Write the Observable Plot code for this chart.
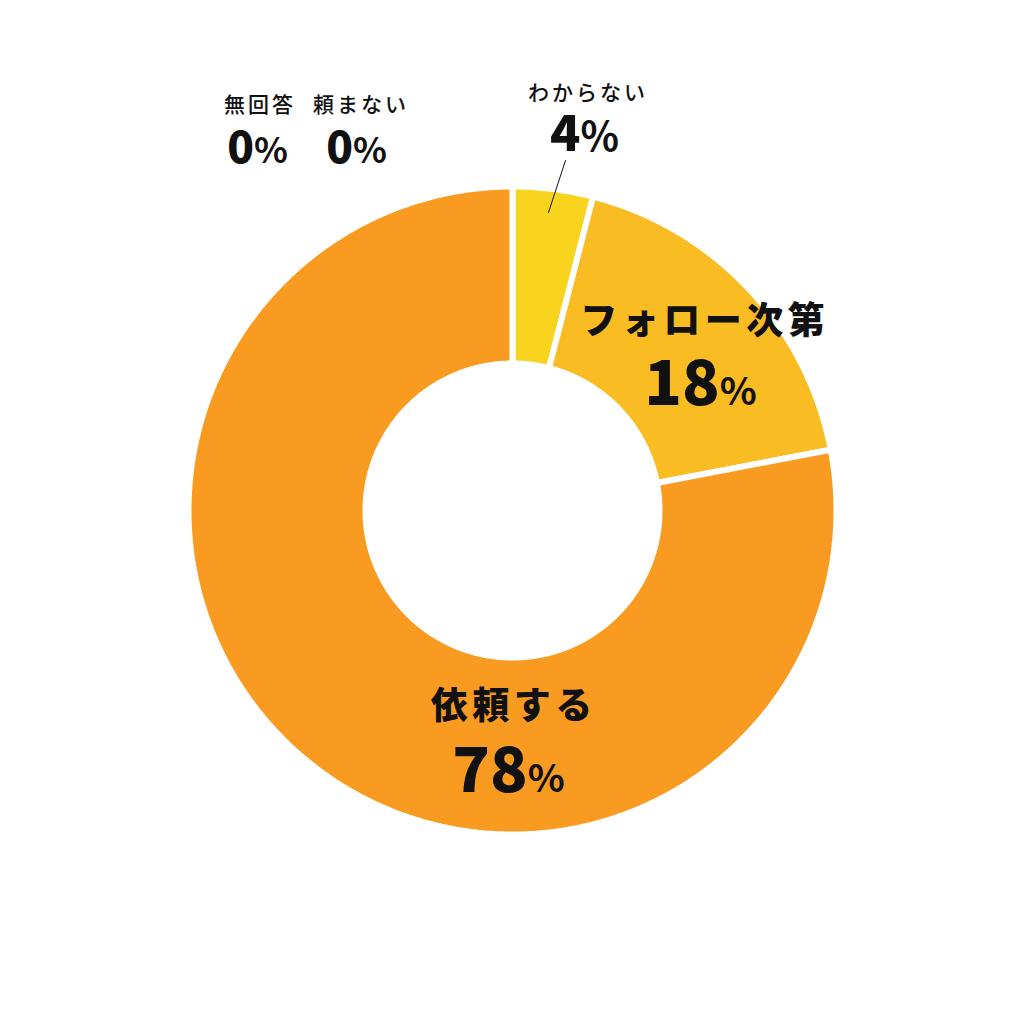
<!DOCTYPE html>
<html>
<head>
<meta charset="utf-8">
<script src="https://cdn.jsdelivr.net/npm/d3@7"></script>
<script src="https://cdn.jsdelivr.net/npm/@observablehq/plot@0.6"></script>
<style>
  html, body { margin: 0; padding: 0; background: #fff; }
  #chart svg { display: block; }
</style>
</head>
<body>
<div id="chart"></div>
<script>
// ---- data (clockwise from 12 o'clock) ----
const categories = ["わからない", "フォロー次第", "依頼する", "頼まない", "無回答"];
const values = [4, 18, 78, 0, 0];
const colors = ["#F9D41E", "#F9BC22", "#F99B21", "#F99B21", "#F99B21"];

// ---- layout (pixels relative to donut centre, y up) ----
const outerR = 324, innerR = 147;
const labelLayout = {
  "わからない":   {nx: 74,   ny: 417, vx: 72,   vy: 376, nameSize: 21, valSize: 50, nameWeight: 500, pct: 0.8, spacing: 3},
  "フォロー次第": {nx: 190,  ny: 188, vx: 188,  vy: 125, nameSize: 37, valSize: 62, nameWeight: 900, pct: 0.62, spacing: 4.5},
  "依頼する":     {nx: -1,   ny: -197, vx: -4,  vy: -262, nameSize: 37, valSize: 62, nameWeight: 900, pct: 0.62, spacing: 4.5},
  "頼まない":     {nx: -153, ny: 405, vx: -156, vy: 362, nameSize: 21, valSize: 44, nameWeight: 500, pct: 0.8, spacing: 3},
  "無回答":       {nx: -254, ny: 405, vx: -255, vy: 362, nameSize: 21, valSize: 44, nameWeight: 500, pct: 0.8, spacing: 3}
};
const leader = [{x: 53, y: 350}, {x: 36, y: 298}];

// build slice polygons from values
const total = d3.sum(values);
const slices = [];
let cum = 0;
categories.forEach((c, i) => {
  const a0 = cum / total * 2 * Math.PI;
  cum += values[i];
  const a1 = cum / total * 2 * Math.PI;
  if (values[i] <= 0) return;
  const n = Math.max(2, Math.ceil((a1 - a0) / (Math.PI / 360)));
  for (let k = 0; k <= n; k++) {
    const a = a0 + (a1 - a0) * k / n;
    slices.push({cat: c, x: outerR * Math.sin(a), y: outerR * Math.cos(a)});
  }
  for (let k = n; k >= 0; k--) {
    const a = a0 + (a1 - a0) * k / n;
    slices.push({cat: c, x: innerR * Math.sin(a), y: innerR * Math.cos(a)});
  }
});

const labels = categories.map((c, i) => ({cat: c, value: values[i], ...labelLayout[c]}));
const font = "'Noto Sans CJK JP', 'Noto Sans', sans-serif";

const marks = [
  Plot.line(slices, {x: "x", y: "y", z: "cat", fill: "cat", stroke: "#fff", strokeWidth: 6, curve: "linear-closed", strokeLinejoin: "miter"}),
  Plot.line(leader, {x: "x", y: "y", stroke: "#111", strokeWidth: 1})
];
labels.forEach(l => {
  marks.push(Plot.text([l], {x: "nx", y: "ny", text: "cat", fontSize: l.nameSize, fontWeight: l.nameWeight, fill: "#111", lineAnchor: "middle", fontFamily: font}));
  marks.push(Plot.text([l], {x: "vx", y: "vy", text: d => d.value + "%", fontSize: l.valSize, fontWeight: 900, fill: "#111", lineAnchor: "middle", fontFamily: font}));
});

const chart = Plot.plot({
  width: 1021, height: 1020,
  margin: 0,
  style: {background: "#fff", fontFamily: font},
  x: {domain: [-512, 509], axis: null},
  y: {domain: [-510, 510], axis: null},
  color: {domain: categories, range: colors},
  marks
});

// letter spacing + smaller percent sign (text stays real text)
chart.querySelectorAll("text").forEach(t => {
  const s = t.textContent;
  const lab = labels.find(l => l.cat === s || (l.value + "%") === s);
  if (!lab) return;
  if (lab.cat === s) {
    t.setAttribute("letter-spacing", lab.spacing);
    t.setAttribute("dx", lab.spacing / 2);
  } else {
    const num = s.slice(0, -1);
    t.textContent = "";
    const ns = "http://www.w3.org/2000/svg";
    const a = document.createElementNS(ns, "tspan"); a.textContent = num;
    const b = document.createElementNS(ns, "tspan"); b.textContent = "%";
    b.setAttribute("font-size", (lab.valSize * lab.pct) + "px");
    b.setAttribute("font-weight", 700);
    t.appendChild(a); t.appendChild(b);
  }
});

document.getElementById("chart").appendChild(chart);
</script>
</body>
</html>
